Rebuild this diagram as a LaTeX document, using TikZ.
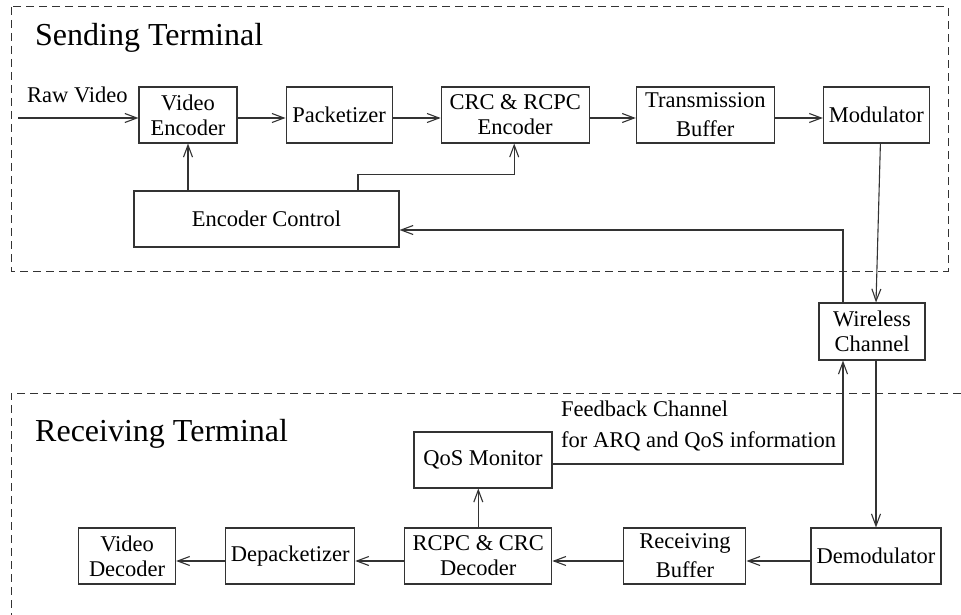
\documentclass[tikz,border=0pt]{standalone}
\usepackage{fontspec}
\setmainfont{Liberation Serif}
\usepackage{tikz}
\usetikzlibrary{positioning,arrows.meta,calc}

\newcommand{\boxfont}{\fontsize{22.5}{25}\selectfont}
\newcommand{\termfont}{\fontsize{32}{36}\selectfont}

\tikzset{
  blk/.style={draw=black!80, line width=1.1pt, minimum height=56pt, inner sep=0pt, align=center, font=\boxfont},
  frame/.style={draw=black!80, line width=1pt, dash pattern=on 8pt off 5pt},
  lbl/.style={inner sep=0pt, anchor=base west, font=\boxfont},
  conn/.style={draw=black!80, line width=1.1pt}
}

\begin{document}
\begin{tikzpicture}[x=1pt, y=-1pt, >={Straight Barb[length=12pt,width=9pt]}]
    \useasboundingbox (0,0) rectangle (961,615);
    % terminals
    \draw[frame] (11,7) rectangle (948,271);
    \draw[frame] (961,393) -- (11,393) -- (11,615);
    \node[inner sep=0pt, anchor=base west, font=\termfont] (sendlbl) at (35,46) {Sending Terminal};
    \node[inner sep=0pt, anchor=base west, font=\termfont] (recvlbl) at (35,441) {Receiving Terminal};

    % sending side
    \node[blk, minimum width=98pt] (venc) at (188,115) {Video\\Encoder};
    \node[blk, minimum width=106pt, right=48pt of venc] (pack) {Packetizer};
    \node[blk, minimum width=148pt, right=48pt of pack] (crc) {CRC \& RCPC\\Encoder};
    \node[blk, minimum width=138pt, right=46pt of crc] (txbuf) {Transmission\\[4pt]Buffer};
    \node[blk, minimum width=106pt, right=48pt of txbuf] (mod) {Modulator};
    \node[blk, minimum width=265pt] (encctl) at (266.5,219) {Encoder Control};

    % channel
    \node[blk, minimum width=106pt, minimum height=57pt] (wch) at (872,331.5) {Wireless\\Channel};

    % receiving side
    \node[blk, minimum width=130pt] (demod) at (876,556) {Demodulator};
    \node[blk, minimum width=122pt, left=64pt of demod] (rxbuf) {Receiving\\[4pt]Buffer};
    \node[blk, minimum width=147pt, left=71pt of rxbuf] (rcpc) {RCPC \& CRC\\Decoder};
    \node[blk, minimum width=129pt, left=49pt of rcpc] (depack) {Depacketizer};
    \node[blk, minimum width=97pt, left=49pt of depack] (vdec) {Video\\Decoder};
    \node[blk, minimum width=138pt] (qos) at (483,460) {QoS Monitor};

    \node[lbl] (rawlbl) at (27,103) {Raw Video};
    \node[lbl] (fblbl) at (561,416) {Feedback Channel};
    \node[lbl] (fblbl2) at (561,447) {for ARQ and QoS information};

    % connectors
    \coordinate (rawin) at (18,118);
    \draw[conn,->] (rawin) -- (rawin -| venc.west);
    \foreach \a/\b in {venc/pack, pack/crc, crc/txbuf, txbuf/mod}
        \draw[conn,->] ([yshift=-3pt]\a.east) -- ([yshift=-3pt]\b.west);
    \draw[conn,->] (venc |- encctl.north) -- (venc.south);
    \draw[conn,->] ([xshift=91.5pt]encctl.north) -- ++(0,-16) -| ([xshift=-1pt]crc.south);
    \draw[conn,->] ([xshift=4pt]mod.south) -- ([xshift=4pt]wch.north);
    \draw[conn,->] (demod.north |- wch.south) -- (demod.north);
    \draw[conn,->] ([xshift=-29pt]wch.north) |- ([yshift=-11pt]encctl.east);
    \draw[conn,->] ([yshift=-4pt]qos.east) -| ([xshift=-29pt]wch.south);
    \draw[conn,->] (rcpc.north) -- (rcpc.north |- qos.south);
    \foreach \a/\b in {demod/rxbuf, rxbuf/rcpc, rcpc/depack, depack/vdec}
        \draw[conn,->] ([yshift=-5pt]\a.west) -- ([yshift=-5pt]\b.east);
\end{tikzpicture}
\end{document}
